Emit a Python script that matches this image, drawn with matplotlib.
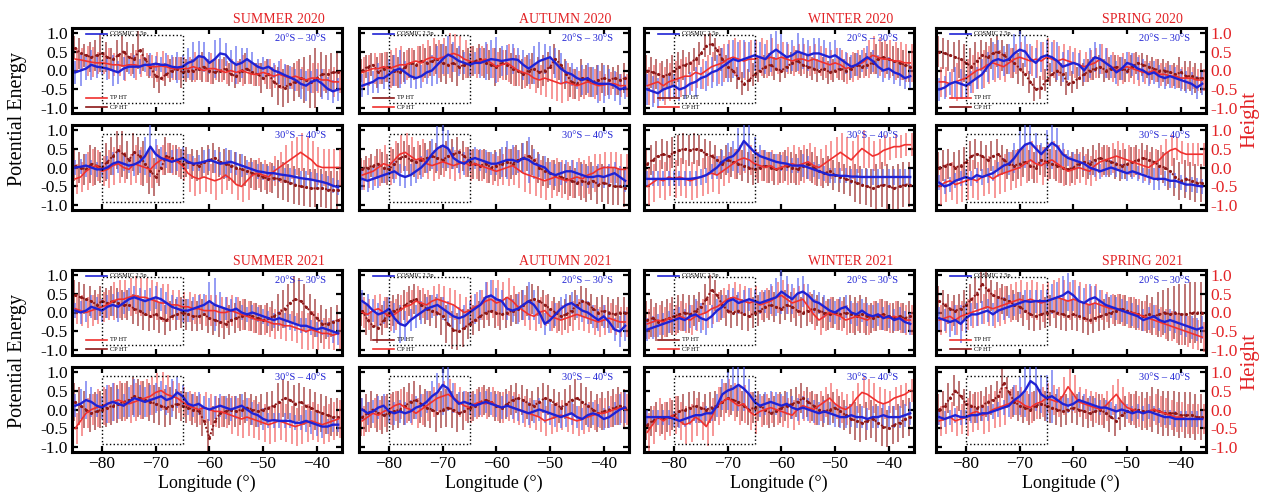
import numpy as np
import matplotlib
matplotlib.use("Agg")
import matplotlib.pyplot as plt

plt.rcParams['font.family'] = ['Liberation Serif', 'DejaVu Serif']

lon = [-85, -84, -83, -82, -81, -80, -79, -78, -77, -76,
       -75, -74, -73, -72, -71, -70, -69, -68, -67, -66,
       -65, -64, -63, -62, -61, -60, -59, -58, -57, -56,
       -55, -54, -53, -52, -51, -50, -49, -48, -47, -46,
       -45, -44, -43, -42, -41, -40, -39, -38, -37, -36]

# ---- SUMMER 2020 ----
su20n_b = [-.05,0,.05,.15,.1,.08,.05,0,-.05,.05, .1,.1,.1,.15,.15,.18,.15,.15,.1,.08, .1,.2,.25,.38,.35,.2,.3,.45,.42,.25, .15,.2,.3,.2,.1,.05,.1,0,-.05,-.12, -.18,-.25,-.35,-.4,-.3,-.25,-.35,-.48,-.55,-.5]
su20n_r = [.3,.28,.25,.22,.2,.2,.18,.15,.15,.12, .15,.15,.12,.15,.1,.1,.12,.1,.05,.05, .05,.05,.1,.05,0,.05,.05,0,-.05,0, -.05,0,-.05,-.1,-.1,-.05,-.1,-.15,-.1,-.15, -.2,-.15,-.2,-.25,-.2,-.2,-.25,-.25,-.3,-.3]
su20n_d = [.6,.45,.4,.35,.4,.45,.35,.3,.4,.5, .35,.3,.55,.3,.1,-.15,-.2,-.1,0,.05, -.05,0,0,.05,.1,0,-.05,0,.05,-.1, -.15,0,.05,-.05,-.1,-.2,-.1,-.3,-.4,-.45, -.35,-.3,-.2,-.25,-.3,-.2,-.1,-.1,-.05,-.05]
su20s_b = [0,.02,.05,0,-.05,-.05,0,.1,.15,.1, .05,.08,.15,.3,.55,.35,.25,.2,.15,.2, .25,.15,.1,.12,.15,.2,.15,.1,.12,.15, .1,.05,0,-.05,-.1,-.12,-.15,-.15,-.18,-.2, -.22,-.25,-.28,-.3,-.32,-.35,-.38,-.42,-.48,-.52]
su20s_r = [-.3,-.25,-.1,0,.05,-.1,-.05,.05,.1,0, -.05,.1,.05,0,-.05,.1,.2,.25,.2,.15, .05,-.15,-.25,-.3,-.25,-.3,-.35,-.3,-.2,-.3, -.45,-.5,-.35,-.2,-.15,-.2,-.25,-.1,0,.1, .2,.3,.4,.3,.2,.05,0,0,0,0]
su20s_d = [.05,0,-.05,.1,.05,0,.15,.3,.45,.35, .2,.4,.3,.1,-.1,-.25,0,.3,.25,.2, .1,.15,.1,.05,.15,.2,.25,.15,.1,.05, 0,-.05,-.1,-.15,-.2,-.25,-.3,-.28,-.3,-.35, -.4,-.45,-.5,-.52,-.55,-.55,-.55,-.58,-.6,-.6]

# ---- AUTUMN 2020 ----
au20n_b = [-.4,-.35,-.3,-.2,-.2,-.1,0,.05,-.05,-.15, -.2,-.15,-.05,0,.15,.3,.42,.35,.25,.2, .15,.2,.2,.25,.3,.28,.25,.28,.3,.28, .15,.05,.15,.25,.3,.35,.2,.05,-.05,-.1, -.2,-.25,-.2,-.3,-.35,-.35,-.35,-.4,-.5,-.45]
au20n_r = [-.05,0,.05,.05,.1,.05,.1,.15,.15,.2, .25,.2,.3,.35,.3,.35,.4,.45,.4,.3, .25,.2,.25,.3,.2,.1,.15,.2,.1,0, -.05,-.1,-.2,-.25,-.2,-.25,-.3,-.35,-.3,-.35, -.4,-.35,-.3,-.35,-.4,-.38,-.35,-.35,-.4,-.4]
au20n_d = [0,.1,.15,-.05,.05,.1,0,-.05,.1,.2, .15,.25,.2,.25,.3,.2,.15,.2,.1,.15, .2,.25,.3,.2,.15,.1,.2,.15,.05,0, -.1,0,.05,-.05,0,.1,.3,.15,-.1,-.3, -.35,-.2,-.25,-.3,-.25,-.2,-.25,-.2,-.25,-.2]
au20s_b = [-.3,-.35,-.3,-.25,-.2,-.15,-.1,-.2,-.25,-.2, -.1,0,.15,.35,.5,.58,.5,.25,.15,.1, .2,.25,.2,.15,.1,.1,.15,.2,.2,.15, .25,.2,.1,.05,0,-.15,-.2,-.15,-.1,-.1, -.15,-.2,-.25,-.25,-.22,-.25,-.2,-.15,-.25,-.35]
au20s_r = [-.2,-.15,-.1,0,.1,.05,.2,.35,.4,.3, .2,.25,.1,.05,.1,.15,.1,.05,.1,.15, .05,.1,.05,0,-.05,-.1,-.05,0,.05,-.05, -.15,-.2,-.25,-.3,-.35,-.3,-.25,-.3,-.35,-.3, -.25,-.3,-.2,-.15,-.05,0,0,0,-.05,-.05]
au20s_d = [-.05,0,.05,.1,0,-.05,.1,.25,.3,.2, .15,.2,.25,.3,.25,.2,.3,.35,.4,.3, .15,.1,.05,.1,0,.05,.1,.15,.1,.2, .25,.3,.2,0,-.1,-.15,-.2,-.25,-.3,-.35, -.4,-.35,-.4,-.35,-.45,-.4,-.45,-.5,-.5,-.55]

# ---- WINTER 2020 ----
wi20n_b = [-.5,-.55,-.6,-.5,-.45,-.4,-.5,-.45,-.35,-.3, -.2,-.15,-.05,0,.1,.2,.3,.25,.3,.35, .4,.35,.3,.45,.55,.45,.35,.4,.5,.45, .4,.45,.45,.4,.35,.4,.3,.2,.1,.15, .25,.35,.25,.1,0,.05,-.05,-.1,-.2,-.15]
wi20n_r = [-.4,-.35,-.3,-.4,-.3,-.25,-.2,-.15,-.15,-.05, -.1,0,.1,.15,.2,.3,.35,.3,.25,.3, .3,.35,.3,.35,.3,.35,.3,.25,.3,.3, .25,.3,.25,.2,.15,.2,.15,.05,.1,.15, .2,.3,.4,.35,.3,.3,.25,.25,.2,.2]
wi20n_d = [0,-.05,-.1,-.15,-.1,0,.1,.15,.2,.3, .45,.65,.7,.55,.3,.1,0,-.2,-.35,-.25, -.1,0,.1,.15,.05,0,.1,.2,.25,.15, .1,.05,0,.05,-.05,0,.05,0,.05,.15, .1,.15,.2,.3,.35,.3,.25,.2,.15,.1]
wi20s_b = [-.3,-.3,-.3,-.3,-.3,-.3,-.3,-.3,-.3,-.28, -.25,-.2,-.1,0,.15,.25,.3,.45,.7,.55, .4,.3,.25,.2,.15,.12,.1,.05,.05,.05, 0,-.05,-.1,-.15,-.2,-.2,-.22,-.22,-.24,-.24, -.25,-.25,-.25,-.25,-.25,-.25,-.25,-.25,-.25,-.25]
wi20s_r = [-.5,-.4,-.3,-.35,-.25,-.3,-.25,-.3,-.35,-.3, -.25,-.2,-.15,-.2,-.1,0,.1,.2,.25,.2, .1,.05,0,.05,-.05,0,.05,.1,.05,.1, .15,.05,0,.1,.2,.3,.4,.3,.2,.35, .5,.4,.3,.35,.45,.5,.55,.55,.6,.6]
wi20s_d = [.1,.2,.3,.35,.3,.4,.45,.5,.45,.5, .45,.35,.3,.2,.1,.2,.15,.1,.05,0, -.05,0,.05,0,-.05,0,.05,0,-.05,.05, .1,0,-.1,-.15,-.1,-.2,-.25,-.3,-.35,-.4, -.45,-.5,-.55,-.5,-.45,-.5,-.55,-.5,-.45,-.45]

# ---- SPRING 2020 ----
sp20n_b = [-.5,-.45,-.35,-.3,-.35,-.4,-.3,-.2,-.1,.1, .25,.3,.25,.3,.45,.55,.5,.3,.2,.35, .4,.35,.25,.1,.15,.2,.15,0,.2,.35, .3,.2,.1,-.05,.05,.2,.15,.05,0,-.1, -.05,-.15,-.2,-.15,-.2,-.25,-.3,-.35,-.45,-.35]
sp20n_r = [-.3,-.3,-.35,-.3,-.25,-.2,-.1,0,.05,.15, .2,.15,.1,.2,.3,.35,.3,.25,.3,.25, .35,.3,.25,.3,.25,.2,.15,.1,.15,.2, .3,.2,.1,0,.05,.1,.05,0,-.05,-.05, 0,-.1,-.1,-.15,-.15,-.2,-.2,-.2,-.25,-.25]
sp20n_d = [.5,.45,.4,.35,.3,.2,.1,.25,.4,.35, .45,.5,.4,.3,.2,.05,-.1,-.3,-.5,-.45, -.25,-.1,0,-.1,-.35,-.3,-.2,-.1,0,.05, .1,0,.05,.1,.05,0,.1,.2,.15,.1, .05,0,0,-.05,-.1,-.05,-.15,-.15,-.2,-.2]
sp20s_b = [-.4,-.5,-.45,-.35,-.3,-.25,-.3,-.2,-.25,-.2, -.15,-.05,.05,.1,.25,.45,.6,.65,.5,.35, .5,.65,.55,.35,.25,.2,.15,.1,0,-.05, -.1,-.05,0,-.05,-.1,-.15,-.1,-.15,-.2,-.25, -.3,-.3,-.3,-.35,-.35,-.4,-.45,-.45,-.48,-.5]
sp20s_r = [-.5,-.4,-.35,-.45,-.4,-.35,-.3,-.35,-.25,-.2, -.3,-.2,-.15,-.1,-.05,0,.1,.2,.1,.05, .15,.2,.1,0,-.1,-.05,0,-.05,-.1,.05, .15,.2,.25,.3,.25,.2,.15,.1,.05,0, .1,.2,.35,.45,.5,.4,.35,.35,.35,.35]
sp20s_d = [0,.05,.1,0,.05,.15,.3,.35,.3,.2, .3,.35,.2,.1,.05,.1,.15,.05,0,.2, .15,.1,.05,0,-.05,0,.1,.15,.1,.2, .25,.2,.15,.1,.05,.1,.15,.2,.25,.2, .15,.05,0,-.1,-.25,-.35,-.3,-.35,-.4,-.4]

# ---- SUMMER 2021 ----
su21n_b = [.05,0,.05,.15,.1,.05,.15,.2,.15,.25, .35,.4,.35,.3,.35,.4,.35,.25,.15,.1, .05,.05,.1,.15,.2,.3,.2,.15,.1,.05, .1,0,-.05,0,-.05,-.1,-.15,-.2,-.15,-.2, -.25,-.3,-.35,-.35,-.4,-.45,-.4,-.45,-.5,-.55]
su21n_r = [.1,.05,0,.05,.1,.15,.2,.3,.35,.35, .4,.45,.4,.4,.35,.3,.25,.25,.2,.2, .15,.15,.1,.1,.05,.05,.05,0,0,.05, 0,-.05,-.1,-.15,-.2,-.2,-.25,-.3,-.3,-.35, -.35,-.4,-.45,-.5,-.45,-.5,-.55,-.55,-.6,-.55]
su21n_d = [.45,.4,.35,.3,.2,.3,.25,.3,.25,.2, .2,.1,.05,-.05,-.1,-.05,-.15,-.2,-.1,-.05, 0,-.05,-.1,-.1,-.05,-.15,-.2,-.25,-.3,-.2, -.15,-.1,-.05,-.1,-.15,-.2,-.15,-.1,0,.1, .25,.35,.3,.15,0,-.15,-.3,-.3,-.25,-.2]
su21s_b = [.1,.15,.25,.2,.1,.05,.15,.2,.15,.1, .2,.3,.25,.2,.25,.3,.35,.25,.3,.45, .35,.15,.1,.15,.05,0,.05,.1,.05,0, .05,.1,0,-.1,-.15,-.25,-.3,-.28,-.3,-.3, -.3,-.35,-.35,-.3,-.35,-.4,-.45,-.45,-.4,-.4]
su21s_r = [-.5,-.3,-.1,0,.05,.1,.15,.2,.25,.2, .15,.2,.25,.3,.35,.45,.5,.4,.35,.3, .2,.1,.05,0,.05,0,-.05,-.05,-.1,-.15, -.2,-.25,-.2,-.25,-.3,-.35,-.4,-.35,-.3,-.35, -.4,-.45,-.4,-.35,-.3,-.35,-.4,-.35,-.3,-.25]
su21s_d = [.2,.1,0,-.1,-.05,0,.05,.1,.15,.2, .25,.35,.3,.25,.2,.15,.1,.05,.1,.15, .1,.05,0,-.05,-.3,-.75,-.3,-.1,-.05,0, -.05,0,.05,0,-.05,0,.05,.1,.2,.3, .25,.15,.2,.1,.05,-.05,-.1,-.15,-.2,-.2]

# ---- AUTUMN 2021 ----
au21n_b = [.3,.2,.05,-.05,0,.1,-.15,-.3,-.35,-.2, -.1,0,.1,.15,.2,.1,0,-.1,-.15,-.1, 0,.1,.2,.4,.45,.35,.3,.1,.05,.1, .2,.3,.2,0,-.3,-.2,-.05,.1,.2,.25, .15,.05,0,-.1,-.2,-.1,-.25,-.45,-.5,-.35]
au21n_r = [0,-.05,.05,.1,0,-.1,-.05,.05,.15,.2, .3,.25,.2,.3,.35,.3,.25,.2,.1,0, .05,.15,.2,.3,.35,.25,.3,.4,.3,.15, .05,-.05,-.1,0,.05,-.1,-.15,-.2,-.15,-.1, -.05,-.1,-.15,-.2,-.25,-.2,-.15,-.2,-.25,-.25]
au21n_d = [.05,-.2,-.35,-.4,-.2,0,.05,.1,.2,.3, .35,.2,.1,.05,0,-.1,-.3,-.45,-.5,-.4, -.3,-.2,-.1,0,.05,0,-.05,0,.05,.1, .2,.3,.35,.3,.2,.1,0,-.1,-.05,.05, .2,.3,.25,.1,0,.05,0,-.05,0,0]
au21s_b = [0,-.1,-.05,.05,.1,-.05,-.1,-.05,-.1,-.05, .05,.1,.2,.35,.45,.65,.55,.3,.15,.2, .15,.1,.15,.2,.15,.1,.05,.1,.05,0, -.05,-.1,-.05,0,-.05,-.1,-.15,-.2,-.15,-.1, -.2,-.25,-.15,-.1,-.15,-.25,-.2,-.1,0,.05]
au21s_r = [-.3,-.2,-.1,-.15,-.05,0,.1,.15,.05,0, -.1,0,.1,.2,.3,.35,.4,.3,.2,.1, .05,.15,.2,.15,.2,.1,.05,.1,.05,0, -.05,-.1,-.15,-.2,-.3,-.25,-.2,-.15,-.2,-.25, -.3,-.25,-.2,-.15,-.1,-.1,-.05,0,.05,0]
au21s_d = [-.2,-.1,0,-.1,-.15,-.1,-.05,0,.1,.2, .25,.15,.05,0,-.1,0,.05,0,-.1,-.05, .05,.1,.2,.25,.2,.1,.05,.15,.25,.3, .25,.15,.1,.2,.3,.25,.15,.05,.15,.25, .3,.2,.1,0,-.1,-.05,0,.05,.1,.05]

# ---- WINTER 2021 ----
wi21n_b = [-.45,-.4,-.35,-.3,-.25,-.2,-.15,-.2,-.1,-.05, -.15,-.2,-.1,.05,.15,.3,.35,.25,.3,.35, .3,.25,.3,.35,.4,.55,.45,.35,.5,.55, .45,.3,.25,.15,.05,0,.1,.15,0,-.05, .05,-.05,-.1,-.05,-.15,-.1,-.2,-.15,-.25,-.3]
wi21n_r = [-.3,-.25,-.2,-.25,-.15,-.2,-.1,-.15,-.2,-.1, -.05,0,.1,.15,.25,.35,.4,.35,.3,.25, .3,.2,.25,.3,.4,.45,.35,.25,.3,.35, .15,-.05,-.2,-.1,0,-.05,-.1,-.2,-.15,-.1, -.15,-.2,-.1,-.05,-.1,-.15,-.1,-.15,-.2,-.2]
wi21n_d = [-.2,-.15,-.25,-.2,-.15,-.1,-.05,0,-.05,.05, .15,.35,.6,.45,.2,.05,0,.05,-.05,-.1, 0,.05,.15,.2,.15,.1,.2,.15,.05,0, .05,.1,.05,0,-.05,0,-.05,0,-.05,-.1, -.05,-.1,-.15,-.1,-.05,-.1,-.15,-.1,-.15,-.1]
wi21s_b = [-.2,-.2,-.2,-.2,-.2,-.25,-.3,-.25,-.2,-.15, -.15,-.1,-.1,.1,.4,.5,.55,.65,.55,.4, .2,.1,.15,.2,.15,.1,.15,.05,0,.05, 0,-.05,-.1,-.05,-.1,-.15,-.2,-.2,-.15,-.2, -.2,-.25,-.2,-.2,-.15,-.2,-.2,-.2,-.15,-.1]
wi21s_r = [-.6,-.4,-.2,-.3,-.2,-.15,-.3,-.4,-.35,-.2, -.3,-.45,-.2,.1,.2,.3,.2,.1,.15,-.05, -.15,-.05,0,.05,0,-.05,-.1,-.15,0,.1, .05,0,.1,.2,.3,.15,.05,0,.1,.3, .45,.4,.3,.2,.15,.2,.3,.35,.4,.5]
wi21s_d = [-.4,-.3,-.2,-.25,-.2,-.15,-.05,0,.05,.1, .05,0,.05,.1,.2,.3,.25,.2,.1,0, .05,.1,0,-.1,-.05,.05,.1,.15,.2,.3, .2,.1,0,-.05,0,.05,-.05,-.15,-.25,-.3, -.35,-.3,-.25,-.35,-.45,-.5,-.4,-.35,-.25,-.2]

# ---- SPRING 2021 ----
sp21n_b = [-.15,-.2,-.25,-.2,-.3,-.15,-.05,-.05,0,.05, -.05,.05,.1,.15,.2,.25,.3,.28,.3,.3, .3,.35,.4,.45,.55,.45,.3,.25,.35,.4, .3,.2,.15,.1,.05,0,-.05,-.1,-.2,-.15, -.1,-.2,-.25,-.2,-.25,-.3,-.35,-.4,-.45,-.4]
sp21n_r = [-.2,-.15,-.1,-.2,-.1,-.05,0,.05,.1,.15, .1,.15,.2,.25,.3,.35,.3,.35,.3,.25, .3,.35,.4,.35,.3,.35,.3,.25,.2,.25, .2,.15,.1,.1,.05,0,0,-.05,-.1,-.15, -.2,-.25,-.3,-.35,-.4,-.45,-.5,-.55,-.6,-.65]
sp21n_d = [.3,.2,.1,.05,.1,.2,.35,.5,.75,.6, .45,.4,.35,.3,.2,.15,.05,-.05,-.1,-.05, 0,.05,0,-.05,-.1,-.05,-.1,-.15,-.2,-.15, -.1,-.05,0,.05,.1,.05,0,-.05,-.1,-.05, -.1,-.05,0,-.05,0,-.05,-.05,0,0,0]
sp21s_b = [-.2,-.25,-.2,-.15,-.2,-.2,-.15,-.15,-.1,-.1, -.05,0,.05,.1,.25,.35,.5,.75,.65,.4, .3,.35,.25,.15,.1,.15,.25,.2,.15,.1, .05,.05,0,-.05,0,-.05,-.1,-.05,-.1,-.05, -.1,-.15,-.2,-.2,-.25,-.25,-.25,-.25,-.25,-.25]
sp21s_r = [-.3,-.25,-.2,-.3,-.25,-.2,-.1,-.05,-.15,-.1, 0,.05,.1,.15,.25,.2,.1,.05,.15,.2, .3,.25,.2,.35,.6,.4,.2,.15,.1,.05, 0,.1,.25,.4,.2,.05,0,-.05,-.1,-.05, 0,-.05,-.1,-.15,-.2,-.2,-.25,-.25,-.25,-.25]
sp21s_d = [0,.1,.3,.5,.35,.15,.1,.05,.1,.2, .25,.35,.7,.45,.2,.1,.05,0,.1,.15, .1,.05,0,-.05,0,.05,0,-.05,-.1,-.05, 0,-.1,-.2,-.3,-.15,-.05,0,0,-.05,-.05, 0,-.05,-.1,-.1,-.1,-.15,-.15,-.15,-.2,-.2]

# error bar half-widths, in tenths
su20n_be = [3,4,3,4,3,2,3,4,3,3,2,3,2,2,3,2,2,3,3,4,3,4,5,4,4,3,5,4,3,3,5,4,3,3,2,3,2,2,3,3,3,3,4,4,3,3,4,3,3,3]
su20n_re = [3,3,4,4,3,3,4,3,3,4,3,4,3,3,3,4,4,3,3,3,3,3,4,3,3,4,3,3,3,3,3,4,3,3,3,3,4,3,4,3,3,4,3,3,4,4,3,3,4,3]
su20n_de = [3,4,3,4,4,5,4,3,4,4,4,4,5,3,3,3,4,3,3,3,4,3,3,3,4,3,3,3,3,3,3,3,4,3,3,4,4,4,5,5,5,5,5,6,7,8,6,5,5,5]
su20s_be = [2,2,3,2,2,2,3,3,3,2,2,3,3,5,8,4,3,2,3,3,3,2,2,2,3,3,3,3,4,3,3,3,2,2,2,2,2,2,2,2,2,2,2,2,2,2,2,2,2,2]
su20s_re = [4,4,5,5,4,4,5,5,5,4,4,5,5,4,5,5,4,4,4,4,4,5,5,4,4,4,5,4,4,4,4,4,5,4,4,4,4,4,4,5,5,5,5,5,5,5,5,5,5,5]
su20s_de = [4,4,4,5,5,4,5,5,5,6,5,5,5,6,6,5,5,5,4,4,4,4,4,4,4,4,4,4,4,4,4,4,4,4,4,4,4,4,5,5,5,5,5,5,5,5,5,5,5,5]
au20n_be = [3,3,3,4,3,4,4,5,3,3,3,3,3,4,5,4,5,4,4,3,3,3,4,5,5,6,4,4,4,3,4,4,5,5,4,3,4,4,3,3,3,4,4,4,5,5,4,4,4,3]
au20n_re = [4,4,4,4,4,5,5,5,4,4,4,5,5,5,5,5,6,5,5,5,4,4,4,4,4,4,4,5,5,4,4,4,4,4,5,5,5,5,5,4,4,4,4,4,4,3,3,3,3,3]
au20n_de = [3,3,3,4,4,4,4,4,4,4,4,4,4,4,4,5,5,5,5,4,4,4,4,4,4,5,4,4,4,4,4,4,4,4,4,4,4,4,4,4,4,5,4,4,4,4,4,3,4,4]
au20s_be = [3,3,3,3,2,2,3,3,3,3,3,3,3,4,6,6,5,3,3,3,3,3,3,3,3,3,4,5,4,3,4,6,4,3,3,3,3,3,3,3,3,3,3,3,3,3,3,3,3,3]
au20s_re = [4,4,4,5,5,5,5,5,5,5,5,5,4,4,4,4,4,4,4,4,4,4,4,4,4,4,4,5,5,5,5,5,5,5,5,5,5,5,5,5,5,5,5,5,4,4,4,4,4,4]
au20s_de = [3,3,3,4,4,4,4,4,4,4,4,4,4,4,4,4,4,4,4,4,4,4,4,4,4,4,4,4,4,4,4,4,4,4,4,4,4,4,4,4,4,5,5,5,5,5,5,5,5,5]
wi20n_be = [4,4,4,3,3,3,3,3,3,4,3,4,4,4,5,5,5,5,5,4,4,4,4,5,5,5,4,4,5,4,4,4,4,4,4,4,3,3,3,3,3,3,3,3,3,3,3,3,3,3]
wi20n_re = [5,5,5,5,5,5,5,5,4,4,4,4,4,5,5,5,5,5,5,5,5,5,5,5,4,4,4,4,4,4,4,4,4,4,4,4,4,4,4,4,4,5,5,5,5,5,5,5,5,5]
wi20n_de = [4,4,4,4,4,4,4,4,3,3,3,3,3,3,3,3,3,3,3,3,3,3,3,3,3,3,3,3,3,3,3,3,3,3,3,3,3,3,3,3,3,3,3,4,4,4,4,4,4,4]
wi20s_be = [2,2,2,2,2,2,2,2,2,2,2,2,2,3,3,4,4,6,8,6,4,3,2,2,2,2,2,2,2,3,3,2,2,2,2,2,2,2,2,2,2,2,2,2,2,2,2,2,2,2]
wi20s_re = [5,5,5,5,5,5,5,5,5,5,5,5,5,5,4,4,4,4,4,4,4,4,4,4,4,4,5,5,5,5,5,5,5,5,5,5,5,5,5,5,5,4,4,4,4,3,3,3,3,3]
wi20s_de = [4,4,4,4,4,4,4,4,4,4,4,4,4,4,4,4,4,4,4,4,4,4,4,4,4,4,4,4,4,4,4,4,4,4,4,4,4,4,4,5,5,5,5,6,6,6,6,6,6,6]
sp20n_be = [3,3,3,4,4,3,3,3,4,4,5,5,4,4,5,5,4,4,4,4,4,4,5,4,4,3,3,3,4,4,4,4,3,3,3,3,3,3,3,3,3,3,3,3,3,3,3,3,3,3]
sp20n_re = [4,4,4,5,5,5,5,5,5,5,5,4,4,4,4,4,4,4,5,5,5,5,4,4,4,4,4,4,4,4,4,4,4,4,4,4,4,4,3,3,3,3,3,3,3,3,3,3,3,3]
sp20n_de = [4,4,4,4,5,5,5,5,4,4,4,4,4,4,4,4,3,3,3,3,3,3,3,3,3,3,3,3,3,3,3,3,3,3,3,3,3,3,3,3,3,3,3,3,3,4,4,4,4,4]
sp20s_be = [2,2,2,2,2,2,2,2,2,2,2,2,2,3,4,5,6,5,4,3,5,7,5,3,2,2,2,2,2,2,2,2,2,2,2,2,2,2,2,2,3,3,2,2,2,2,2,2,2,2]
sp20s_re = [5,5,5,5,5,5,5,5,5,5,5,5,5,5,5,5,5,5,5,5,5,5,5,5,4,4,4,4,4,4,4,4,4,4,4,4,4,4,4,4,4,4,4,4,3,3,3,3,3,3]
sp20s_de = [4,4,4,4,4,4,4,4,4,4,4,4,4,4,4,4,4,4,4,4,4,4,4,4,4,4,4,4,4,4,4,4,4,4,4,4,4,4,4,4,4,4,4,5,5,5,5,5,5,5]
su21n_be = [2,3,3,3,3,3,3,3,4,3,3,3,3,3,3,3,3,3,3,3,3,3,3,3,3,5,7,4,3,3,3,2,2,2,2,2,2,2,2,2,2,2,2,2,2,2,2,2,3,3]
su21n_re = [4,4,4,4,4,4,4,5,5,5,5,5,5,5,5,5,5,5,4,4,4,4,4,4,4,4,4,4,4,4,4,4,4,4,4,4,4,4,4,4,4,4,5,5,5,5,4,4,4,4]
su21n_de = [4,4,4,4,4,4,4,4,4,4,4,4,4,4,4,4,4,4,4,4,4,4,4,4,4,4,4,4,4,4,4,4,4,4,4,4,4,4,5,5,5,6,6,6,5,5,5,4,4,4]
su21s_be = [3,4,5,4,3,3,5,5,4,3,4,5,4,4,4,4,4,4,5,4,3,3,3,3,3,3,3,3,3,3,3,3,3,3,3,3,2,2,2,2,2,2,2,3,3,3,3,2,2,2]
su21s_re = [4,4,4,4,5,5,5,5,5,5,5,5,5,5,5,5,5,5,4,4,4,4,4,4,4,4,4,4,4,5,5,5,5,5,5,5,5,5,5,5,5,5,5,5,5,5,5,5,5,5]
su21s_de = [5,5,5,5,5,5,5,5,5,5,5,5,5,5,5,5,5,5,5,4,4,4,4,4,4,5,4,4,4,4,4,4,4,4,4,4,4,4,5,5,5,5,5,5,5,5,5,5,5,5]
au21n_be = [3,3,3,3,3,3,4,5,4,3,3,3,3,3,3,3,3,3,3,3,3,4,4,4,4,3,3,3,3,4,4,5,4,3,3,3,3,3,3,3,3,3,3,3,3,3,3,3,4,4]
au21n_re = [4,4,4,4,4,4,4,4,4,4,4,4,4,4,4,4,4,4,4,4,4,4,4,5,5,6,5,5,4,4,4,4,4,4,4,4,4,4,4,4,4,4,4,4,4,4,4,4,4,4]
au21n_de = [4,4,4,4,4,4,4,4,4,4,4,4,4,4,4,5,5,5,5,5,4,4,4,4,4,4,4,4,4,4,4,4,4,4,4,4,4,4,4,4,4,4,4,4,4,4,4,4,4,4]
au21s_be = [3,3,3,3,3,3,3,3,3,3,3,3,3,4,5,8,6,4,3,3,3,3,3,3,3,3,3,3,3,3,3,3,3,3,3,3,3,3,3,3,3,3,3,3,3,3,3,3,4,4]
au21s_re = [4,4,4,4,4,4,4,4,4,4,4,4,4,4,4,4,4,4,4,4,4,4,4,4,4,4,4,4,4,4,4,4,4,4,4,4,4,4,4,4,4,4,4,4,4,4,4,4,4,4]
au21s_de = [5,5,5,5,5,5,5,5,5,5,5,5,5,5,5,5,5,5,5,5,4,4,4,4,4,4,4,4,4,4,4,4,4,4,4,4,4,4,4,4,5,5,5,5,5,5,5,5,5,5]
wi21n_be = [3,3,3,3,3,3,3,3,3,4,4,4,3,3,3,3,3,3,3,3,3,3,3,4,5,6,5,4,4,4,3,3,3,3,3,3,3,3,3,3,3,3,3,3,3,3,3,3,3,3]
wi21n_re = [4,4,4,4,4,4,4,4,4,4,4,4,4,4,4,4,4,4,4,4,4,4,4,4,4,4,4,4,4,4,4,4,4,4,4,4,4,4,4,4,4,4,4,4,4,4,4,4,4,4]
wi21n_de = [5,5,5,5,5,5,5,5,5,4,4,4,4,4,4,4,4,4,4,4,4,4,4,4,4,4,4,4,4,4,4,4,4,4,4,4,4,4,5,5,5,5,4,4,4,4,4,4,4,4]
wi21s_be = [2,2,2,2,2,2,2,2,2,2,2,2,2,3,4,5,6,7,6,4,3,3,3,3,3,3,3,3,3,3,3,3,3,3,3,3,3,3,3,3,3,3,3,3,3,3,3,3,3,3]
wi21s_re = [5,5,5,5,5,5,5,5,5,5,5,5,5,5,5,5,5,5,5,5,5,4,4,4,4,4,4,4,4,4,4,4,4,4,4,4,4,4,4,4,4,4,4,4,4,3,3,3,3,3]
wi21s_de = [4,4,4,4,4,4,4,4,4,4,4,4,4,4,4,4,4,4,4,4,4,4,4,4,4,4,4,4,4,4,4,4,4,4,4,4,4,4,4,5,5,5,5,5,5,5,5,5,5,5]
sp21n_be = [3,3,4,4,5,4,3,3,3,3,3,3,3,3,3,3,3,3,3,3,3,4,4,5,5,4,4,4,4,3,3,3,3,3,3,3,3,3,3,3,3,3,3,3,3,3,3,3,3,3]
sp21n_re = [4,4,4,4,4,4,4,4,4,5,5,5,5,5,5,5,5,5,5,5,5,5,5,5,5,5,5,5,5,5,4,4,4,4,4,4,4,4,4,4,4,4,4,4,4,4,4,4,4,4]
sp21n_de = [4,4,4,4,4,4,4,4,5,5,4,4,4,4,4,4,4,4,4,4,4,4,4,4,4,4,4,4,4,4,4,4,4,4,4,4,4,4,4,5,5,6,6,7,7,8,8,8,8,8]
sp21s_be = [2,2,2,2,2,2,2,2,2,2,2,2,2,3,4,5,7,8,7,5,6,7,3,2,2,2,2,2,2,2,2,2,2,2,2,2,2,2,2,2,2,2,2,2,2,2,2,2,2,2]
sp21s_re = [4,4,4,4,4,5,5,5,5,5,5,5,5,4,4,4,4,4,4,4,4,4,4,5,5,5,4,4,4,4,4,4,4,4,4,4,4,4,4,4,4,4,4,4,4,4,4,4,4,4]
sp21s_de = [4,4,4,4,4,4,4,4,4,4,4,4,4,4,4,4,4,4,4,4,4,4,4,4,4,4,4,4,4,4,4,4,4,4,4,4,4,5,5,5,6,6,6,6,6,6,6,6,6,6]

seasons = ["SUMMER 2020", "AUTUMN 2020", "WINTER 2020", "SPRING 2020",
           "SUMMER 2021", "AUTUMN 2021", "WINTER 2021", "SPRING 2021"]
bands = ["20°S – 30°S", "30°S – 40°S"]
legend_cosmic = "COSMIC 2.5p"
legend_tp = "TP HT"
legend_cp = "CP HT"
box_lon = (-80, -65)

g = globals()
keys = ["su20", "au20", "wi20", "sp20", "su21", "au21", "wi21", "sp21"]

bad = [k for k in g if k[:4] in keys and isinstance(g[k], list) and len(g[k]) != len(lon)]
if bad:
    raise ValueError("wrong length: " + ", ".join(f"{k}={len(g[k])}" for k in bad))

BLUE = "#1f22d4"
BLUE_BAR = "#5560ee"
RED = "#f0302e"
RED_BAR = "#f25a5a"
DARK = "#8c1717"
DARK_BAR = "#9c2f2f"
TITLE_RED = "#e32326"

W, H = 1263, 503
fig = plt.figure(figsize=(W / 100, H / 100), dpi=100)

col_left = [72, 359, 644, 936]
col_w = 270
row_tops = [(28, 125), (270, 367)]
pan_h = 85

x = np.array(lon, dtype=float)

for si, season in enumerate(seasons):
    row, col = divmod(si, 4)
    key = keys[si]
    for bi in range(2):
        top = row_tops[row][bi]
        ax = fig.add_axes([col_left[col] / W, 1 - (top + pan_h) / H, col_w / W, pan_h / H])
        sfx = key + ("n" if bi == 0 else "s")
        yb, yr, yd = g[sfx + "_b"], g[sfx + "_r"], g[sfx + "_d"]
        eb = np.array(g[sfx + "_be"]) * 0.1
        er = np.array(g[sfx + "_re"]) * 0.1
        ed = np.array(g[sfx + "_de"]) * 0.1

        ax.errorbar(x - 0.3, yd, yerr=ed, fmt='none', ecolor=DARK_BAR, elinewidth=1.1, alpha=0.85, zorder=1)
        ax.errorbar(x + 0.3, yr, yerr=er, fmt='none', ecolor=RED_BAR, elinewidth=1.1, alpha=0.8, zorder=2)
        ax.errorbar(x, yb, yerr=eb, fmt='none', ecolor=BLUE_BAR, elinewidth=1.1, alpha=0.8, zorder=3)
        ax.plot(x, yd, color=DARK, lw=1.4, ls=(0, (1, 1)), marker='.', ms=2.5, zorder=4)
        ax.plot(x, yr, color=RED, lw=1.2, zorder=5)
        ax.plot(x, yb, color=BLUE, lw=1.7, zorder=6)

        lo, hi = (-0.85, 0.93) if bi == 0 else (-0.92, 0.88)
        ax.plot([box_lon[0], box_lon[1], box_lon[1], box_lon[0], box_lon[0]],
                [lo, lo, hi, hi, lo], ls=':', color='k', lw=1.0, zorder=7)

        ax.set_xlim(-85.6, -35.3)
        ax.set_ylim(-1.12, 1.12)
        ax.set_xticks([-80, -70, -60, -50, -40])
        ax.set_yticks([-1.0, -0.5, 0.0, 0.5, 1.0])
        ax.tick_params(direction='in', length=4, width=1.6, top=True, right=True,
                       labelsize=12.5, pad=3,
                       labelleft=(col == 0), labelright=(col == 3),
                       labelbottom=(row == 1 and bi == 1))
        if col == 3:
            for t in ax.get_yticklabels():
                t.set_color(TITLE_RED)
        ax.yaxis.set_major_formatter(plt.FormatStrFormatter('%.1f'))
        for sp in ax.spines.values():
            sp.set_linewidth(2.2)

        ax.text(0.94, 0.93, bands[bi], transform=ax.transAxes, ha='right', va='top',
                color=BLUE, fontsize=7.5, zorder=9)

        if bi == 0:
            ax.text(0.765, 1.1, season, transform=ax.transAxes, ha='center', va='center',
                    color=TITLE_RED, fontsize=10)
            tp_col, cp_col = (RED, DARK) if col in (0, 3) else (DARK, RED)
            ax.plot([0.05, 0.13], [0.93, 0.93], transform=ax.transAxes, color=BLUE, lw=1.2, zorder=9)
            ax.text(0.14, 0.93, legend_cosmic, transform=ax.transAxes, fontsize=4.5, va='center', zorder=9)
            ax.plot([0.05, 0.13], [0.18, 0.18], transform=ax.transAxes, color=tp_col, lw=1.2, zorder=9)
            ax.text(0.14, 0.18, legend_tp, transform=ax.transAxes, fontsize=4.5, va='center', zorder=9)
            ax.plot([0.05, 0.13], [0.07, 0.07], transform=ax.transAxes, color=cp_col, lw=1.2, zorder=9)
            ax.text(0.14, 0.07, legend_cp, transform=ax.transAxes, fontsize=4.5, va='center', zorder=9)

        if row == 1 and bi == 1:
            ax.set_xlabel("Longitude (°)", fontsize=13, labelpad=2)

for r in range(2):
    ymid = (row_tops[r][0] + row_tops[r][1] + pan_h) / 2
    fig.text(18 / W, 1 - ymid / H, "Potential Energy", rotation=90, ha='center', va='center', fontsize=14.5)
    fig.text(1250 / W, 1 - ymid / H, "Height", rotation=90, ha='center', va='center',
             fontsize=15, color=TITLE_RED)

fig.savefig("out.png", dpi=100)
